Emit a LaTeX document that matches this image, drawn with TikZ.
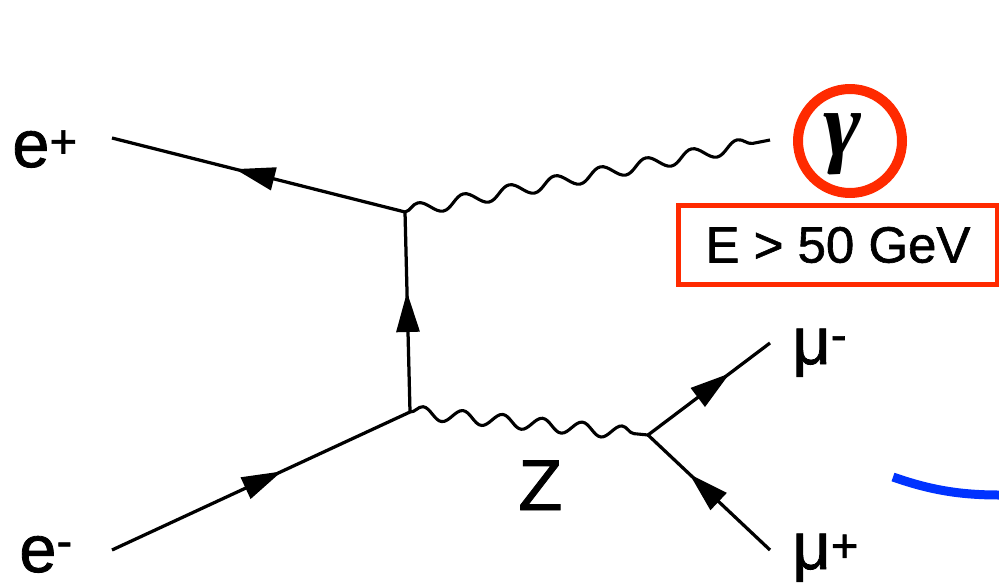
\documentclass[tikz,border=0pt]{standalone}
\usepackage{fontspec}
\setmainfont[FakeBold=1.2]{Liberation Sans}
\newfontfamily\greekserif{Liberation Serif}
\usepackage{tikz}
\usetikzlibrary{arrows.meta,decorations.pathmorphing,decorations.markings}
\definecolor{ink}{HTML}{000000}
\definecolor{cutred}{HTML}{FF2A00}
\definecolor{arcblue}{HTML}{0033FF}
\newcommand{\chg}[2]{\raisebox{#1}{\fontsize{27}{27}\selectfont #2}}
\tikzset{
  fermion/.style={draw=ink, line width=0.065cm, postaction={decorate},
    decoration={markings, mark=at position #1 with {\arrow{Triangle[length=8mm, width=4.6mm]}}}},
  boson/.style={draw=ink, line width=0.062cm, decorate,
    decoration={snake, amplitude=1.3mm, segment length=#1}},
  particle/.style={anchor=base west, inner sep=0pt, font=\fontsize{38}{38}\selectfont},
  cutbox/.style={rectangle, draw=cutred, line width=0.1cm, minimum width=6.4cm, minimum height=1.6cm, inner sep=0pt, font=\fontsize{29}{29}\selectfont},
  ring/.style={circle, draw=cutred, line width=0.2cm, minimum size=2.08cm, inner sep=0pt}
}
\begin{document}
\begin{tikzpicture}[x=0.02cm, y=-0.02cm]
  \useasboundingbox (0,0) rectangle (999,584);
  % vertices
  \coordinate (top) at (405,212);
  \coordinate (bot) at (410,412);
  \coordinate (zdec) at (648,435);
  % free ends
  \coordinate (epin) at (112,138);
  \coordinate (emin) at (112,550);
  \coordinate (gout) at (770,140);
  \coordinate (muout) at (770,343);
  \coordinate (mupin) at (770,550);
  % labels
  \node[particle] (ep) at (12,167) {e\chg{5.3pt}{+}};
  \node[particle] (em) at (19,572) {e\chg{8.5pt}{-}};
  \node[particle] (mum) at (792,364) {μ\chg{7.5pt}{-}};
  \node[particle] (mup) at (792,569) {μ\chg{4pt}{+}};
  \node[particle, font=\fontsize{41}{41}\selectfont] (zlab) at (518,510) {Z};
  \node[inner sep=0pt, font=\fontsize{52}{52}\selectfont\greekserif\bfseries\itshape] (gam) at (842,144) {γ};
  \node[ring] (circ) at (850,141) {};
  \node[cutbox] (cut) at (838,245) {E > 50 GeV};
  % lines
  \draw[fermion=0.58] (top) -- (epin);
  \draw[fermion=0.57] (emin) -- (bot);
  \draw[fermion=0.6] (bot) -- (top);
  \draw[boson=0.93cm] (top) -- (gout);
  \draw[boson=0.8cm] (bot) -- (zdec);
  \draw[fermion=0.67] (zdec) -- (muout);
  \draw[fermion=0.66] (mupin) -- (zdec);
  \draw[arcblue, line width=0.18cm] (893,477) .. controls (930,490) and (960,495) .. (999,495);
\end{tikzpicture}
\end{document}
